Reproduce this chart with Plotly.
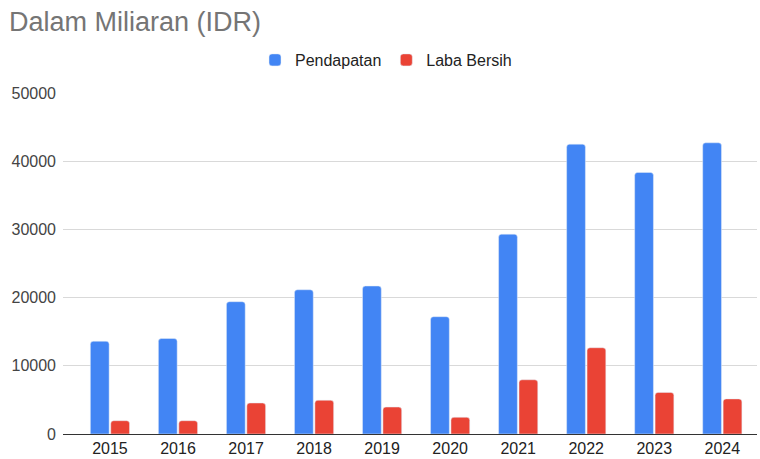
import plotly.graph_objects as go

years = ["2015", "2016", "2017", "2018", "2019", "2020", "2021", "2022", "2023", "2024"]
pendapatan = [13600, 14000, 19400, 21150, 21700, 17200, 29300, 42500, 38350, 42700]
laba_bersih = [1950, 1950, 4550, 4950, 3950, 2450, 7950, 12650, 6100, 5150]
y_ticks = [0, 10000, 20000, 30000, 40000, 50000]

font_family = "Liberation Sans, Arial, sans-serif"

fig = go.Figure()
fig.add_trace(go.Bar(x=years, y=pendapatan, name="Pendapatan", marker_color="#4285F4"))
fig.add_trace(go.Bar(x=years, y=laba_bersih, name="Laba Bersih", marker_color="#EA4335"))

fig.update_layout(
    width=760, height=459,
    margin=dict(l=63, r=3, t=93, b=25),
    paper_bgcolor="white", plot_bgcolor="white",
    font=dict(family=font_family, size=16, color="#444444"),
    title=dict(text="Dalam Miliaran (IDR)", x=9/760, xanchor="left", xref="container",
               y=1 - 22/459, yanchor="middle", yref="container",
               font=dict(size=27, color="#757575", family=font_family)),
    barmode="group", bargap=0.4, bargroupgap=0.08, barcornerradius=3,
    legend=dict(orientation="h", x=386/760, xref="container", xanchor="center",
                y=1 - 60/459, yref="container", yanchor="middle",
                font=dict(size=16, color="#222222"), itemwidth=30),
    showlegend=True,
)
fig.update_yaxes(range=[0, 50000], tickvals=y_ticks, ticktext=[str(v) for v in y_ticks],
                 showgrid=True, gridcolor="#d9d9d9", gridwidth=1, zeroline=False,
                 showline=False, ticks="", ticklabelstandoff=6,
                 tickfont=dict(size=16, color="#444444"))
fig.update_xaxes(type="category", range=[-0.69, 9.51], showgrid=False, showline=True,
                 linecolor="#333333", linewidth=1, ticks="",
                 tickfont=dict(size=16, color="#222222"))
fig.write_html("out.html", config={"displayModeBar": False},
               post_script="document.body.style.margin='0';")
